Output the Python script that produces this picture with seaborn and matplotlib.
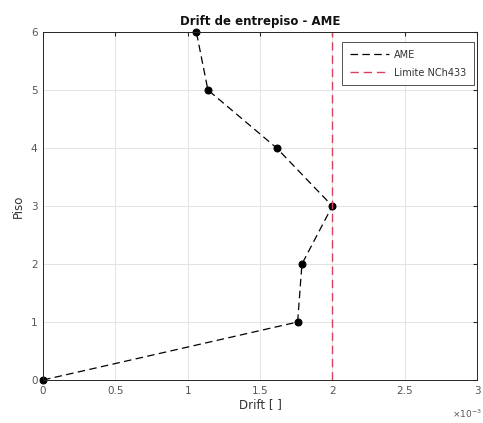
import matplotlib
matplotlib.use("Agg")
import matplotlib.pyplot as plt
from matplotlib.lines import Line2D
import seaborn as sns
import pandas as pd

# Data (drift in units of 1e-3)
piso = [0, 1, 2, 3, 4, 5, 6]
drift_e3 = [0.0, 1.76, 1.79, 2.0, 1.615, 1.14, 1.06]
limite_e3 = 2.0
x_ticks = [0, 0.5, 1, 1.5, 2, 2.5, 3]
x_ticklabels = ["0", "0.5", "1", "1.5", "2", "2.5", "3"]
y_ticks = [0, 1, 2, 3, 4, 5, 6]

sns.set_style("white")
plt.rcParams['font.family'] = ['DejaVu Sans']

df = pd.DataFrame({"Drift": drift_e3, "Piso": piso})

fig = plt.figure(figsize=(4.83, 4.23), dpi=100)
W, H = 483, 423
L, R, T, B = 43, 477, 32, 380
ax = fig.add_axes([L / W, 1 - B / H, (R - L) / W, (B - T) / H])

dash = (0, (6, 3.5))
red = "#d8405f"
sns.lineplot(data=df, x="Drift", y="Piso", sort=False, estimator=None,
             color="black", linestyle=dash, linewidth=0.9,
             marker="o", markersize=5, markeredgecolor="black",
             markerfacecolor="black", ax=ax, clip_on=False)
ax.axvline(limite_e3, color=red, linestyle=dash, linewidth=1.0)

ax.set_xlim(0, 3)
ax.set_ylim(0, 6)
ax.set_xticks(x_ticks)
ax.set_xticklabels(x_ticklabels)
ax.set_yticks(y_ticks)
ax.grid(True, color="#e3e3e3", linewidth=0.7)
ax.tick_params(direction="in", length=3, colors="#262626", labelsize=7.5,
               labelcolor="#555555", top=True, right=True, pad=4)
for s in ax.spines.values():
    s.set_color("#262626")
    s.set_linewidth(0.7)

ax.set_xlabel("Drift [ ]", fontsize=8.5, color="#333333", labelpad=2)
ax.set_ylabel("Piso", fontsize=8.5, color="#333333", labelpad=4)
ax.set_title("Drift de entrepiso - AME", fontsize=8.5, fontweight="bold",
             color="#111111", pad=5)
fig.text(482 / W, 1 - 414 / H, r"$\times10^{-3}$", fontsize=6.5, color="#555555",
         ha="right", va="center")

handles = [Line2D([], [], color="black", linestyle=dash, linewidth=0.9),
           Line2D([], [], color=red, linestyle=dash, linewidth=1.0)]
leg = ax.legend(handles, ["AME", "Limite NCh433"], loc="upper right",
                bbox_to_anchor=((474 - L) / (R - L), 1 - (42 - T) / (B - T)),
                borderaxespad=0,
                fontsize=7, frameon=True, fancybox=False, edgecolor="#262626",
                handlelength=4.0, borderpad=0.8, labelspacing=0.8,
                handletextpad=0.5)
leg.get_frame().set_linewidth(0.7)
for t in leg.get_texts():
    t.set_color("#333333")

fig.savefig("out.png", dpi=100)
